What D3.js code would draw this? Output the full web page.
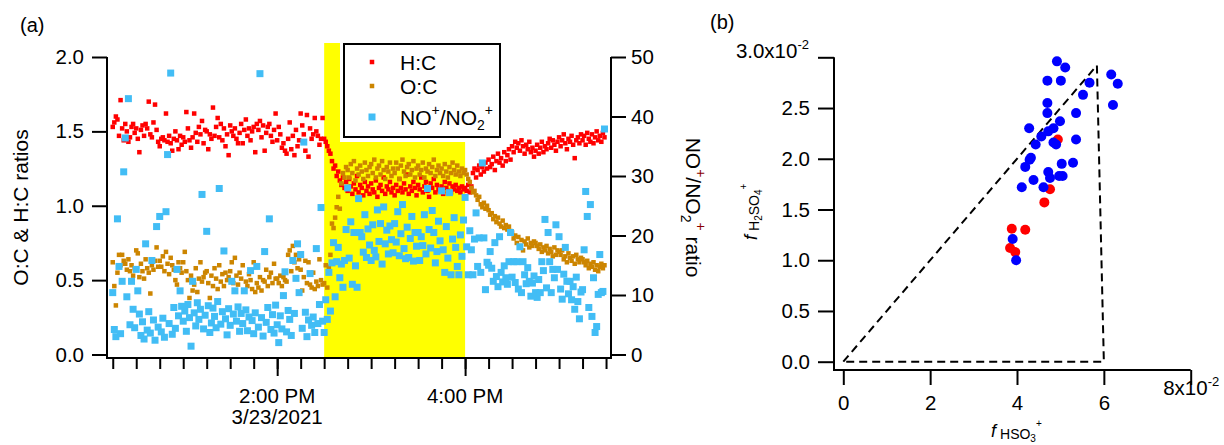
<!DOCTYPE html>
<html><head><meta charset="utf-8">
<script src="https://cdn.jsdelivr.net/npm/d3@7"></script>
<style>body{margin:0;background:#fff}svg{font-family:"Liberation Sans",Arial,sans-serif}</style>
</head><body><svg id="c" width="1224" height="445"></svg>
<script>
// ---------------- DATA ----------------
// panel (a): one sample per minute starting 12:15 PM, 3/23/2021
const startTime = "2021-03-23 12:15:00";
const stepMinutes = 1;
const hcRatio = [
1.53,1.56,1.60,1.58,1.47,1.71,1.52,1.44,1.55,1.50,1.43,1.46,1.53,1.55,1.49,
1.52,1.45,1.36,1.51,1.54,1.47,1.55,1.52,1.70,1.48,1.46,1.56,1.68,1.51,1.43,
1.40,1.45,1.46,1.44,1.62,1.43,1.47,1.42,1.37,1.45,1.50,1.44,1.38,1.47,1.41,
1.46,1.43,1.63,1.52,1.44,1.39,1.46,1.62,1.49,1.43,1.53,1.48,1.57,1.42,1.51,
1.50,1.38,1.48,1.45,1.66,1.47,1.53,1.59,1.46,1.55,1.44,1.52,1.40,1.48,1.34,
1.54,1.50,1.47,1.52,1.45,1.42,1.49,1.55,1.42,1.51,1.58,1.47,1.52,1.44,1.50,
1.53,1.36,1.55,1.51,1.57,1.46,1.54,1.37,1.49,1.53,1.55,1.47,1.43,1.51,1.62,
1.44,1.53,1.48,1.39,1.42,1.37,1.35,1.45,1.56,1.38,1.47,1.34,1.51,1.40,1.44,
1.62,1.54,1.48,1.37,1.61,1.33,1.52,1.45,1.48,1.59,1.50,1.47,1.41,1.45,1.59,
1.45,1.43,1.40,1.37,1.35,1.30,1.25,1.27,1.20,1.23,1.17,1.14,1.19,1.12,1.16,
1.10,1.18,1.13,1.08,1.15,1.11,1.20,1.09,1.14,1.12,1.07,1.16,1.10,1.13,1.08,
1.15,1.11,1.09,1.17,1.06,1.12,1.14,1.10,1.19,1.08,1.13,1.11,1.16,1.09,1.12,
1.07,1.14,1.10,1.18,1.12,1.09,1.15,1.11,1.21,1.08,1.13,1.10,1.16,1.12,1.07,
1.14,1.11,1.19,1.09,1.13,1.16,1.10,1.06,1.15,1.12,1.18,1.09,1.14,1.11,1.10,
1.13,1.08,1.16,1.12,1.10,1.15,1.09,1.13,1.11,1.14,1.10,1.12,1.09,1.13,1.11,
1.12,1.10,1.14,1.09,1.13,1.22,1.25,1.19,1.24,1.27,1.21,1.26,1.23,1.29,1.25,
1.31,1.26,1.28,1.33,1.24,1.30,1.35,1.29,1.32,1.27,1.36,1.30,1.34,1.38,1.31,
1.40,1.36,1.43,1.39,1.42,1.37,1.44,1.40,1.35,1.41,1.38,1.43,1.36,1.39,1.33,
1.37,1.41,1.35,1.39,1.43,1.36,1.40,1.38,1.42,1.45,1.39,1.44,1.41,1.37,1.43,
1.46,1.40,1.44,1.48,1.42,1.38,1.45,1.43,1.47,1.41,1.32,1.44,1.46,1.42,1.48,
1.44,1.47,1.41,1.49,1.45,1.43,1.48,1.42,1.46,1.50,1.44,1.47,1.43,1.49,1.46];
const ocRatio = [
0.62,0.46,0.33,0.55,0.67,0.60,0.67,0.63,0.61,0.57,0.64,0.56,0.60,0.53,0.58,
0.70,0.68,0.52,0.61,0.56,0.51,0.64,0.58,0.55,0.41,0.60,0.57,0.63,0.72,0.59,
0.63,0.59,0.66,0.56,0.69,0.61,0.54,0.65,0.60,0.57,0.50,0.47,0.62,0.58,0.55,
0.62,0.69,0.56,0.50,0.38,0.53,0.43,0.47,0.58,0.42,0.51,0.62,0.49,0.52,0.55,
0.56,0.48,0.38,0.53,0.46,0.58,0.51,0.44,0.60,0.49,0.54,0.46,0.55,0.50,0.52,
0.56,0.62,0.48,0.65,0.53,0.47,0.55,0.51,0.60,0.43,0.49,0.46,0.54,0.50,0.44,
0.62,0.42,0.48,0.45,0.52,0.43,0.50,0.49,0.57,0.46,0.52,0.55,0.48,0.61,0.51,
0.51,0.48,0.53,0.46,0.52,0.50,0.49,0.67,0.70,0.56,0.73,0.62,0.67,0.58,0.64,
0.57,0.43,0.52,0.63,0.48,0.62,0.47,0.45,0.55,0.44,0.49,0.46,0.64,0.50,0.47,
0.48,0.60,0.45,0.59,0.67,0.88,0.85,0.92,0.99,1.06,0.98,1.15,1.22,1.19,1.26,
1.24,1.19,1.28,1.22,1.30,1.17,1.25,1.21,1.27,1.23,1.18,1.29,1.24,1.20,1.26,
1.28,1.22,1.31,1.19,1.25,1.27,1.21,1.30,1.24,1.18,1.26,1.23,1.29,1.20,1.25,
1.22,1.29,1.25,1.18,1.27,1.31,1.23,1.20,1.26,1.28,1.21,1.24,1.30,1.19,1.25,
1.27,1.21,1.24,1.29,1.19,1.25,1.23,1.28,1.22,1.26,1.31,1.20,1.24,1.27,1.22,
1.25,1.20,1.28,1.23,1.19,1.26,1.22,1.29,1.24,1.21,1.27,1.23,1.20,1.25,1.22,
1.24,1.21,1.18,1.16,1.12,1.09,1.10,1.07,1.04,1.06,1.01,0.99,1.02,0.98,1.00,
0.97,0.94,0.95,0.91,0.93,0.89,0.92,0.88,0.86,0.90,0.85,0.87,0.84,0.86,0.83,
0.82,0.78,0.80,0.75,0.79,0.73,0.77,0.70,0.76,0.74,0.78,0.72,0.75,0.73,0.76,
0.75,0.73,0.71,0.74,0.69,0.72,0.70,0.73,0.68,0.71,0.69,0.66,0.72,0.67,0.70,
0.69,0.67,0.70,0.64,0.66,0.62,0.68,0.65,0.63,0.66,0.61,0.67,0.64,0.62,0.65,
0.64,0.62,0.60,0.63,0.58,0.61,0.59,0.62,0.57,0.60,0.56,0.59,0.61,0.58,0.60];
const noRatio = [
10.4,4.2,3.0,22.8,14.8,3.5,12.3,30.7,36.4,9.7,43.0,5.0,12.3,7.6,4.5,
14.3,10.7,6.8,3.2,5.5,2.6,18.6,4.1,7.2,3.6,15.8,5.8,2.4,21.5,4.6,
23.2,3.8,6.1,2.9,24.0,33.6,5.2,47.3,3.4,7.9,4.4,14.3,6.5,10.7,8.1,
5.6,7.3,3.9,8.4,6.2,1.4,12.3,7.0,4.8,8.7,5.9,7.6,26.9,4.3,6.6,
20.7,8.2,3.7,5.3,7.8,6.4,4.5,8.9,27.9,5.1,7.2,17.4,6.0,3.3,7.7,
4.9,12.3,6.8,10.7,5.6,8.0,3.9,6.9,5.2,10.7,7.5,4.0,6.3,14.1,5.7,
3.5,7.0,14.8,4.6,47.2,6.2,3.1,17.3,5.4,7.9,22.8,4.2,6.7,3.6,8.3,
5.0,2.0,6.5,4.3,9.9,13.9,3.8,7.4,5.9,3.2,15.8,6.9,12.8,18.6,10.4,
16.8,4.4,35.7,7.1,3.0,5.8,13.6,4.9,6.3,3.7,17.8,5.2,8.4,24.7,5.6,
3.7,9.2,5.9,13.8,7.3,15.4,18.8,9.7,15.6,18.0,12.9,15.2,11.3,15.8,21.0,
28.0,16.2,22.3,11.8,20.5,14.9,11.3,26.2,20.5,19.8,17.2,23.5,16.3,21.1,18.4,
15.8,21.8,17.5,16.4,24.3,19.0,22.0,15.2,24.8,18.6,20.9,16.9,21.6,19.3,17.1,
22.0,18.9,24.0,16.6,20.3,25.2,17.8,16.1,21.4,16.3,19.5,23.2,15.7,20.5,18.2,
20.5,15.8,19.8,18.3,23.5,16.9,27.9,21.0,17.9,24.2,20.5,15.4,17.3,22.4,19.1,
27.5,17.6,13.8,21.5,16.2,27.2,13.4,19.4,23.0,18.0,14.8,13.4,20.1,16.5,22.6,
26.4,18.1,13.4,20.8,17.6,13.4,19.4,23.8,14.8,19.6,13.8,32.2,19.6,10.9,15.5,
15.0,17.3,14.5,12.3,18.8,13.1,11.4,19.8,13.8,12.2,14.9,12.9,11.8,15.6,20.5,
13.0,15.6,12.1,15.6,11.0,18.1,10.4,15.6,13.4,11.9,14.6,12.3,9.8,12.0,13.2,
10.4,9.6,12.6,10.4,15.6,14.1,22.7,11.2,20.5,15.6,10.4,14.3,12.9,21.8,14.3,
19.8,11.0,9.3,13.5,18.0,12.3,10.2,12.3,9.2,11.4,7.6,13.0,8.9,6.0,10.5,
10.9,17.6,27.4,23.2,7.9,25.2,6.4,12.9,3.7,4.7,10.1,16.8,10.4,10.6,37.9];
const shadeStart = "2021-03-23 14:30:00";
const shadeEnd = "2021-03-23 16:00:00";
const leftTicks = [0, 0.5, 1.0, 1.5, 2.0];
const rightTicks = [0, 10, 20, 30, 40, 50];
const majorTimes = ["2021-03-23 14:00:00", "2021-03-23 16:00:00"];
const majorLabels = [["2:00 PM", "3/23/2021"], ["4:00 PM"]];
const minorStart = "2021-03-23 12:15:00", minorEnd = "2021-03-23 17:30:00";
const axisStartA = "2021-03-23 12:11:20", axisEndA = "2021-03-23 17:33:10";
const seriesNames = ["H:C", "O:C", "NO+/NO2+"];

// panel (b)
const blueHSO3 = [0.0492,0.0511,0.0470,0.0501,0.0567,0.0552,0.0470,0.0470,0.0536,0.0499,0.0428,0.0484,0.0472,0.0456,0.0443,0.0484,0.0490,0.0536,0.0432,0.0429,0.0419,0.0503,0.0529,0.0472,0.0476,0.0497,0.0505,0.0438,0.0411,0.0461,0.0390,0.0398,0.0617,0.0632,0.0621];
const blueH2SO4 = [0.0296,0.0290,0.0277,0.0277,0.0275,0.0263,0.0255,0.0245,0.0245,0.0237,0.0230,0.0230,0.0227,0.0222,0.0214,0.0216,0.0214,0.0219,0.0201,0.0199,0.0192,0.0195,0.0196,0.0187,0.0181,0.0183,0.0183,0.0179,0.0172,0.0172,0.0121,0.0100,0.0283,0.0274,0.0253];
const redHSO3 = [0.0494,0.0476,0.0463,0.0388,0.0419,0.0384,0.0396];
const redH2SO4 = [0.0219,0.0170,0.0157,0.0131,0.0130,0.0112,0.0108];
const triangleX = [0, 0.0584, 0.0600, 0];
const triangleY = [0, 0.0292, 0, 0];
const bXTicks = [0, 0.02, 0.04, 0.06, 0.08];
const bYTicks = [0, 0.005, 0.010, 0.015, 0.020, 0.025, 0.030];

// ---------------- DRAW ----------------
const svg = d3.select("#c");
const parse = d3.timeParse("%Y-%m-%d %H:%M:%S");
const t0 = parse(startTime);
const times = hcRatio.map((_, i) => d3.timeMinute.offset(t0, i * stepMinutes));
const FS = 20.5;
const C_RED = "#ff0000", C_OR = "#cc8500", C_BL = "#42bdf5";

function rich(sel, parts) {
  let cur = 0;
  parts.forEach(p => {
    const ts = sel.append("tspan").text(p.t).attr("font-size", p.size)
      .attr("dy", (p.off || 0) - cur);
    if (p.dx) ts.attr("dx", p.dx);
    if (p.italic) ts.attr("font-style", "italic");
    if (p.fill) ts.attr("fill", p.fill);
    cur = p.off || 0;
  });
}
function styleAxis(g) {
  g.attr("font-family", null).attr("font-size", null);
  g.selectAll(".tick line").attr("stroke", "#000").attr("stroke-width", 2);
  g.selectAll(".tick text").attr("fill", "#000").attr("font-size", FS);
  g.select(".domain").remove();
}

// ---- Panel A ----
const xA = d3.scaleTime().domain([parse(axisStartA), parse(axisEndA)]).range([107, 611]);
const yL = d3.scaleLinear().domain([0, 2]).range([354.5, 57]);
const yR = d3.scaleLinear().domain([0, 50]).range([354.5, 57]);
const axisYA = 358;

svg.append("rect").attr("x", xA(parse(shadeStart))).attr("y", 43)
  .attr("width", xA(parse(shadeEnd)) - xA(parse(shadeStart)))
  .attr("height", axisYA - 43).attr("fill", "#ffff00");

const gA = svg.append("g");
function squares(vals, yS, size, color) {
  gA.append("g").selectAll("rect").data(vals).join("rect")
    .attr("x", (d, i) => xA(times[i]) - size / 2)
    .attr("y", d => yS(d) - size / 2)
    .attr("width", size).attr("height", size).attr("fill", color);
}
squares(hcRatio, yL, 4.5, C_RED);
squares(ocRatio, yL, 4.5, C_OR);
squares(noRatio, yR, 7, C_BL);

// legend
svg.append("rect").attr("x", 340).attr("y", 39).attr("width", 166).attr("height", 103).attr("fill", "#fff");
svg.append("rect").attr("x", 344).attr("y", 44).attr("width", 156).attr("height", 93)
  .attr("fill", "none").attr("stroke", "#000").attr("stroke-width", 2);
const legY = [62, 86, 117], legBase = [69.5, 93.5, 124.5];
[[4.5, C_RED], [4.5, C_OR], [7, C_BL]].forEach((m, i) => {
  svg.append("rect").attr("x", 372 - m[0] / 2).attr("y", legY[i] - m[0] / 2)
    .attr("width", m[0]).attr("height", m[0]).attr("fill", m[1]);
});
svg.append("text").attr("x", 400).attr("y", legBase[0]).attr("font-size", 21).text(seriesNames[0]);
svg.append("text").attr("x", 400).attr("y", legBase[1]).attr("font-size", 21).text(seriesNames[1]);
rich(svg.append("text").attr("x", 400).attr("y", legBase[2]), [
  {t: "NO", size: 21}, {t: "+", size: 14, off: -10}, {t: "/NO", size: 21, off: 0},
  {t: "2", size: 14, off: 5}, {t: "+", size: 14, off: -10}]);

// axes lines
const axisStroke = (x1, y1, x2, y2) => svg.append("line").attr("x1", x1).attr("y1", y1)
  .attr("x2", x2).attr("y2", y2).attr("stroke", "#000").attr("stroke-width", 2);
axisStroke(107, yL(2), 107, axisYA + 1);
axisStroke(611, yR(50), 611, axisYA + 1);
axisStroke(106, axisYA, 612, axisYA);

const gLA = svg.append("g").attr("transform", "translate(107,0)")
  .call(d3.axisLeft(yL).tickValues(leftTicks).tickSize(15).tickPadding(8).tickFormat(d3.format(".1f")));
styleAxis(gLA);
const gRA = svg.append("g").attr("transform", "translate(611,0)")
  .call(d3.axisRight(yR).tickValues(rightTicks).tickSize(15).tickPadding(5).tickFormat(d3.format("d")));
styleAxis(gRA);
const minorTicks = d3.timeMinute.every(15).range(parse(minorStart), d3.timeMinute.offset(parse(minorEnd), 1));
const gBm = svg.append("g").attr("transform", `translate(0,${axisYA})`)
  .call(d3.axisBottom(xA).tickValues(minorTicks).tickSize(11).tickFormat(""));
styleAxis(gBm);
const gBM = svg.append("g").attr("transform", `translate(0,${axisYA})`)
  .call(d3.axisBottom(xA).tickValues(majorTimes.map(parse)).tickSize(18).tickFormat(""));
styleAxis(gBM);
majorTimes.forEach((t, i) => {
  majorLabels[i].forEach((lab, j) => {
    svg.append("text").attr("x", xA(parse(t))).attr("y", 403 + j * 21)
      .attr("text-anchor", "middle").attr("font-size", FS).text(lab);
  });
});
// axis titles
svg.append("text").attr("transform", `translate(28,${(57 + axisYA) / 2}) rotate(-90)`)
  .attr("text-anchor", "middle").attr("font-size", 21).text("O:C & H:C ratios");
rich(svg.append("text").attr("transform", `translate(686,${(57 + axisYA) / 2}) rotate(90)`)
  .attr("text-anchor", "middle"), [
  {t: "NO", size: 21}, {t: "+", size: 14, off: -10, fill: "#8b0000"}, {t: "/NO", size: 21, off: 0},
  {t: "2", size: 14, off: 5}, {t: "+", size: 14, off: -10, fill: "#8b0000"}, {t: " ratio", size: 21, off: 0}]);
svg.append("text").attr("x", 20).attr("y", 32).attr("font-size", 20).text("(a)");

// ---- Panel B ----
const xB = d3.scaleLinear().domain([0, 0.08]).range([843.3, 1190.7]);
const yB = d3.scaleLinear().domain([0, 0.03]).range([361.7, 57.3]);
const axisYB = 370, axisXB = 834;

svg.append("path").attr("d", d3.line().x(d => xB(d[0])).y(d => yB(d[1]))(triangleX.map((v, i) => [v, triangleY[i]])))
  .attr("fill", "none").attr("stroke", "#000").attr("stroke-width", 2).attr("stroke-dasharray", "8,5");

svg.append("g").selectAll("circle").data(redHSO3).join("circle")
  .attr("cx", d => xB(d)).attr("cy", (d, i) => yB(redH2SO4[i])).attr("r", 5).attr("fill", "#ff0000");
svg.append("g").selectAll("circle").data(blueHSO3).join("circle")
  .attr("cx", d => xB(d)).attr("cy", (d, i) => yB(blueH2SO4[i])).attr("r", 5).attr("fill", "#0000ff");

axisStroke(axisXB, yB(0.03), axisXB, axisYB + 1);
axisStroke(axisXB - 1, axisYB, xB(0.08), axisYB);

const gLB = svg.append("g").attr("transform", `translate(${axisXB},0)`)
  .call(d3.axisLeft(yB).tickValues(bYTicks).tickSize(16).tickPadding(8)
    .tickFormat(d => (d * 100).toFixed(1)));
styleAxis(gLB);
gLB.selectAll(".tick text").filter(d => d === 0.030).each(function () {
  const s = d3.select(this); s.text(null).attr("x", -25);
  rich(s, [{t: "3.0x10", size: FS}, {t: "-2", size: 13, off: -9}]);
});
const gBB = svg.append("g").attr("transform", `translate(0,${axisYB})`)
  .call(d3.axisBottom(xB).tickValues(bXTicks).tickSize(15).tickPadding(10)
    .tickFormat(d => d3.format("d")(Math.round(d * 100))));
styleAxis(gBB);
gBB.selectAll(".tick text").filter(d => d === 0.08).each(function () {
  const s = d3.select(this); s.text(null);
  rich(s, [{t: "8x10", size: FS}, {t: "-2", size: 13, off: -9}]);
});
// axis titles (b)
rich(svg.append("text").attr("x", 991).attr("y", 437), [
  {t: "f", size: 18, italic: true}, {t: "HSO", size: 14, off: 1.5, dx: 4}, {t: "3", size: 10, off: 4.5},
  {t: "+", size: 10, off: -10}]);
rich(svg.append("text").attr("transform", "translate(757,240) rotate(-90)"), [
  {t: "f", size: 18, italic: true}, {t: "H", size: 14, off: 1.5, dx: 4}, {t: "2", size: 10, off: 4.5},
  {t: "SO", size: 14, off: 1.5}, {t: "4", size: 10, off: 4.5}, {t: "+", size: 10, off: -10}]);
svg.append("text").attr("x", 710).attr("y", 29).attr("font-size", 20).text("(b)");
</script></body></html>
